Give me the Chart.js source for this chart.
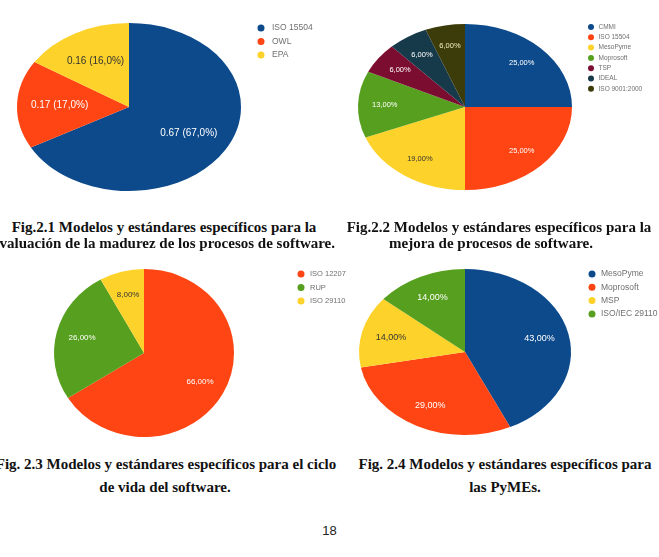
<!DOCTYPE html>
<html><head><meta charset="utf-8">
<script src="https://cdn.jsdelivr.net/npm/chart.js@4.4.1/dist/chart.umd.min.js"></script>
<style>
html,body{margin:0;padding:0;background:#fff;}
body{width:659px;height:557px;position:relative;overflow:hidden;font-family:"Liberation Serif",serif;}
canvas{position:absolute;}
.cap{position:absolute;width:440px;font-weight:bold;font-size:15px;line-height:17px;color:#111;text-align:center;white-space:nowrap;}
.pg{position:absolute;left:0;width:659px;top:523px;text-align:center;font-family:"Liberation Sans",sans-serif;font-size:13px;color:#222;}
</style></head><body>
<canvas id="c1" width="330" height="205" style="left:0;top:0;width:330px;height:205px"></canvas>
<canvas id="c2" width="329" height="205" style="left:330px;top:0;width:329px;height:205px"></canvas>
<canvas id="c3" width="360" height="200" style="left:0;top:250px;width:360px;height:200px"></canvas>
<canvas id="c4" width="329" height="200" style="left:330px;top:250px;width:329px;height:200px"></canvas>

<div class="cap" style="left:-56px;top:219px">Fig.2.1 Modelos y estándares específicos para la</div>
<div class="cap" style="left:-56px;top:235px">evaluación de la madurez de los procesos de software.</div>
<div class="cap" style="left:279px;top:219px">Fig.2.2 Modelos y estándares específicos para la</div>
<div class="cap" style="left:271px;top:235px">mejora de procesos de software.</div>
<div class="cap" style="left:-54px;top:456px">Fig. 2.3 Modelos y estándares específicos para el ciclo</div>
<div class="cap" style="left:-55px;top:479px">de vida del software.</div>
<div class="cap" style="left:285px;top:456px">Fig. 2.4 Modelos y estándares específicos para</div>
<div class="cap" style="left:285px;top:479px">las PyMEs.</div>
<div class="pg">18</div>

<script>
// Fig 2.1
const madurezLabels = ["ISO 15504", "OWL", "EPA"];
const madurezValues = [0.67, 0.17, 0.16];
// Fig 2.2
const mejoraLabels = ["CMMI", "ISO 15504", "MesoPyme", "Moprosoft", "TSP", "IDEAL", "ISO 9001:2000"];
const mejoraValues = [25, 25, 19, 13, 6, 6, 6];
// Fig 2.3
const cicloLabels = ["ISO 12207", "RUP", "ISO 29110"];
const cicloValues = [66, 26, 8];
// Fig 2.4
const pymesLabels = ["MesoPyme", "Moprosoft", "MSP", "ISO/IEC 29110"];
const pymesValues = [43, 29, 14, 14];

const BLUE = "#0c4a8c", RED = "#fe4513", YEL = "#fdd22a", GRN = "#57a01f",
      MAR = "#7b0d31", TEAL = "#173a4b", OLV = "#3c3c0b";

// stretch the pie into an oval and write the slice labels
const oval = {
  id: "oval",
  beforeDatasetsDraw(chart, args, o) {
    const a = chart.getDatasetMeta(0).data[0];
    const ctx = chart.ctx;
    ctx.save();
    ctx.translate(a.x, a.y); ctx.scale(o.sx, 1); ctx.translate(-a.x, -a.y);
  },
  afterDatasetsDraw(chart, args, o) {
    const ctx = chart.ctx;
    ctx.restore();
    const vals = chart.data.datasets[0].data;
    const tot = vals.reduce((s, v) => s + v, 0);
    ctx.save();
    ctx.font = o.size + "px 'Liberation Sans', Arial, sans-serif";
    ctx.textAlign = "center"; ctx.textBaseline = "middle";
    chart.getDatasetMeta(0).data.forEach((a, i) => {
      const m = (a.startAngle + a.endAngle) / 2;
      const r = a.outerRadius * o.f;
      const x = a.x + Math.cos(m) * r * o.sx, y = a.y + Math.sin(m) * r;
      ctx.fillStyle = o.colors[i];
      ctx.fillText(o.fmt(vals[i], vals[i] / tot * 100), x, y);
    });
    ctx.restore();
  }
};

const dotLegend = {
  id: "dotLegend",
  afterDraw(chart, args, o) {
    const ctx = chart.ctx;
    const cols = chart.data.datasets[0].backgroundColor;
    ctx.save();
    ctx.font = o.size + "px 'Liberation Sans', Arial, sans-serif";
    ctx.textBaseline = "middle";
    chart.data.labels.forEach((l, i) => {
      const y = o.y + i * o.gap;
      ctx.fillStyle = cols[i];
      ctx.beginPath(); ctx.arc(o.x, y, o.r, 0, Math.PI * 2); ctx.fill();
      ctx.fillStyle = "#6f6f6f";
      ctx.fillText(l, o.x + o.tx, y);
    });
    ctx.restore();
  }
};

const pct = (v) => v.toFixed(2).replace(".", ",") + "%";

function pie(id, labels, values, colors, g) {
  const cv = document.getElementById(id);
  const pad = {left: g.cx - g.ry, top: g.cy - g.ry,
               right: cv.width - g.cx - g.ry, bottom: cv.height - g.cy - g.ry};
  return new Chart(cv, {
    type: "pie",
    data: {labels, datasets: [{data: values, backgroundColor: colors, borderWidth: 0, hoverOffset: 0}]},
    options: {
      responsive: false, animation: false, events: [],
      layout: {padding: pad},
      plugins: {
        legend: {display: false}, tooltip: {enabled: false},
        oval: {sx: g.rx / g.ry, f: g.f, size: g.fs, fmt: g.fmt, colors: g.lc},
        dotLegend: g.leg
      }
    },
    plugins: [oval, dotLegend]
  });
}

pie("c1", madurezLabels, madurezValues, [BLUE, RED, YEL], {
  cx: 129, cy: 107, ry: 84, rx: 112, f: 0.62, fs: 10,
  fmt: (v, p) => v.toFixed(2) + " (" + p.toFixed(1).replace(".", ",") + "%)",
  lc: ["#fff", "#fff", "#333"],
  leg: {x: 261, y: 28, gap: 13.5, r: 3.5, tx: 11, size: 8.5}
});
pie("c2", mejoraLabels, mejoraValues, [BLUE, RED, YEL, GRN, MAR, TEAL, OLV], {
  cx: 135, cy: 107, ry: 83, rx: 107, f: 0.75, fs: 7.5, fmt: (v) => pct(v),
  lc: ["#fff", "#fff", "#333", "#fff", "#fff", "#fff", "#f4eec0"],
  leg: {x: 261, y: 27, gap: 10.3, r: 3, tx: 7.5, size: 6.5}
});
pie("c3", cicloLabels, cicloValues, [RED, GRN, YEL], {
  cx: 144, cy: 103, ry: 84, rx: 90, f: 0.71, fs: 8, fmt: (v) => pct(v),
  lc: ["#fff", "#fff", "#333"],
  leg: {x: 301, y: 24, gap: 13.5, r: 3.5, tx: 9, size: 7.5}
});
pie("c4", pymesLabels, pymesValues, [BLUE, RED, YEL, GRN], {
  cx: 135, cy: 102, ry: 83, rx: 106, f: 0.72, fs: 9, fmt: (v) => pct(v),
  lc: ["#fff", "#fff", "#333", "#fff"],
  leg: {x: 262, y: 24, gap: 13.3, r: 3.5, tx: 9, size: 8.5}
});
</script>
</body></html>
